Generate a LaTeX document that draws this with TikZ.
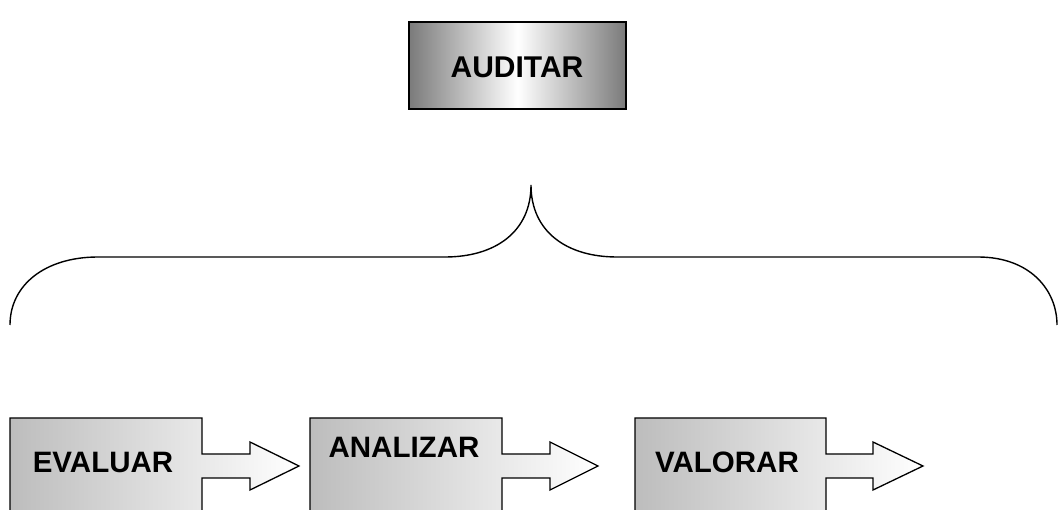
\documentclass[tikz,border=0pt]{standalone}
\usepackage{fontspec}
\setmainfont{Liberation Sans}
\begin{document}
\begin{tikzpicture}[x=1pt,y=-1pt,
  lbl/.style={font=\bfseries\fontsize{29.5}{31}\selectfont, inner sep=0pt, anchor=base},
  stepshape/.style={draw=black, line width=1.3pt, left color=black!26, right color=white},
  brace/.style={draw=black, line width=1.4pt}]
\useasboundingbox (0,0) rectangle (1058,510);
% top box
\draw[draw=black, line width=1.5pt, left color=black!52, right color=black!52, middle color=white]
  (409,22) rectangle (626,109);
\node[lbl, font=\bfseries\fontsize{30}{32}\selectfont] (aud) at (517,78) {AUDITAR};
% brace
\draw[brace] (10,325) .. controls (10,285) and (45,257) .. (98,257) -- (445,257)
  .. controls (495,257) and (531,232) .. (531,185)
  .. controls (531,232) and (567,257) .. (617,257) -- (978,257)
  .. controls (1030,257) and (1057,290) .. (1057,325);
% step shapes
\begin{scope}
\clip (0,0) rectangle (1058,510);
\draw[stepshape] (10,512) -- (10,418) -- (202,418) -- (202,454) -- (250,454) -- (250,442)
  -- (299,466) -- (250,490) -- (250,478) -- (202,478) -- (202,512);
\draw[stepshape] (310,512) -- (310,418) -- (502,418) -- (502,454) -- (550,454) -- (550,442)
  -- (598,466) -- (550,490) -- (550,478) -- (502,478) -- (502,512);
\draw[stepshape] (635,512) -- (635,418) -- (826,418) -- (826,454) -- (873,454) -- (873,442)
  -- (923,466) -- (873,490) -- (873,478) -- (826,478) -- (826,512);
\end{scope}
\node[lbl] (eva) at (103,473) {EVALUAR};
\node[lbl] (ana) at (404,457) {ANALIZAR};
\node[lbl] (val) at (727,473) {VALORAR};
\end{tikzpicture}
\end{document}
